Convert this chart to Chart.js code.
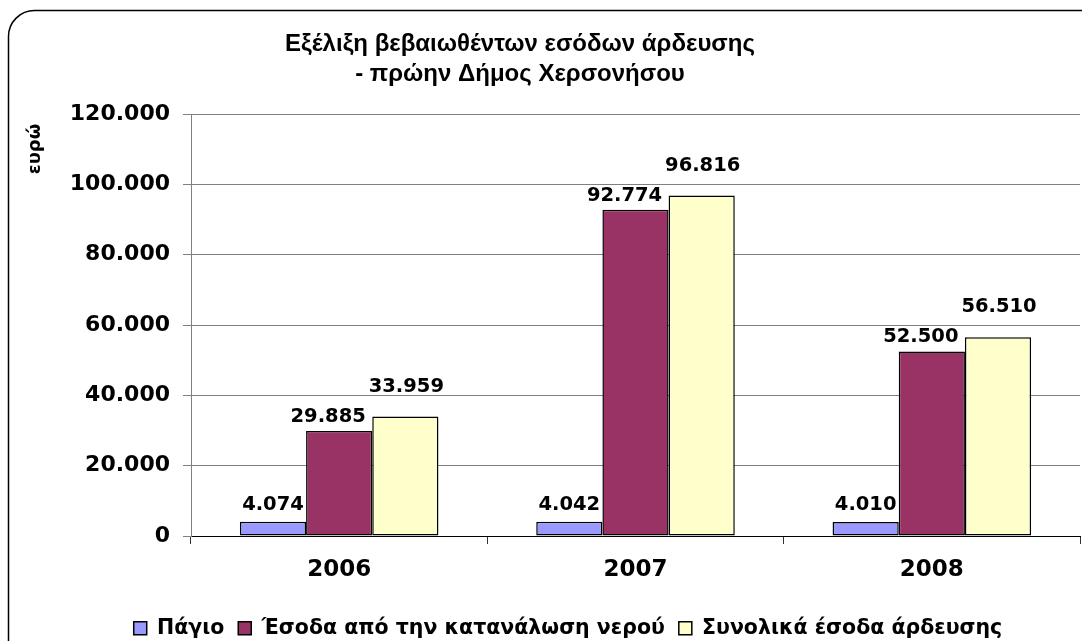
<!DOCTYPE html>
<html><head><meta charset="utf-8">
<script src="https://cdn.jsdelivr.net/npm/chart.js@4.4.0/dist/chart.umd.min.js"></script>
<style>html,body{margin:0;padding:0;background:#fff;overflow:hidden}#wrap{position:absolute;left:0;top:0;width:1082px;height:641px}</style>
</head><body><div id="wrap"><canvas id="c" width="1082" height="641"></canvas></div>
<script>
const titleLines = ['Εξέλιξη βεβαιωθέντων εσόδων άρδευσης', '- πρώην Δήμος Χερσονήσου'];
const yAxisTitle = 'ευρώ';
const categories = ['2006', '2007', '2008'];
const seriesNames = ['Πάγιο', 'Έσοδα από την κατανάλωση νερού', 'Συνολικά έσοδα άρδευσης'];
const pagio = [4074, 4042, 4010];
const esodaNerou = [29885, 92774, 52500];
const synolika = [33959, 96816, 56510];
const yTickValues = [0, 20000, 40000, 60000, 80000, 100000, 120000];

const fmt = v => String(v).replace(/\B(?=(\d{3})+(?!\d))/g, '.');
const VFONT = "'DejaVu Sans', Verdana, sans-serif";

const framePlugin = {
  id: 'frame',
  beforeDraw(chart) {
    const ctx = chart.ctx;
    ctx.save();
    ctx.fillStyle = '#fff';
    ctx.fillRect(0, 0, chart.width, chart.height);
    const x = 8.5, y = 10.5, r = 26, R = chart.width + 20, B = chart.height + 20;
    ctx.beginPath();
    ctx.moveTo(x, B);
    ctx.lineTo(x, y + r);
    ctx.arcTo(x, y, x + r, y, r);
    ctx.lineTo(R, y);
    ctx.lineWidth = 1.5;
    ctx.strokeStyle = '#000';
    ctx.stroke();
    ctx.restore();
  }
};

const textPlugin = {
  id: 'texts',
  afterDraw(chart) {
    const ctx = chart.ctx;
    ctx.save();
    ctx.fillStyle = '#000';
    ctx.textAlign = 'center';
    ctx.textBaseline = 'alphabetic';
    ctx.font = "bold 24px 'Liberation Sans', Arial, sans-serif";
    ctx.fillText(titleLines[0], 520, 51);
    ctx.fillText(titleLines[1], 520, 81);
    ctx.translate(35, 149);
    ctx.rotate(-Math.PI / 2);
    ctx.textBaseline = 'middle';
    ctx.font = "bold 18px " + VFONT;
    ctx.fillText(yAxisTitle, 0, 0);
    ctx.restore();
  }
};

const labelOffsets = [{dx: 0, dy: 12}, {dx: -11, dy: 9}, {dx: 1, dy: 25}];
const valueLabelPlugin = {
  id: 'valueLabels',
  afterDatasetsDraw(chart) {
    const ctx = chart.ctx;
    ctx.save();
    ctx.fillStyle = '#000';
    ctx.textAlign = 'center';
    ctx.textBaseline = 'alphabetic';
    ctx.font = "bold 19.5px " + VFONT;
    chart.data.datasets.forEach((ds, i) => {
      const meta = chart.getDatasetMeta(i);
      meta.data.forEach((el, j) => {
        const o = labelOffsets[i];
        ctx.fillText(fmt(ds.data[j]), el.x + o.dx, el.y - o.dy);
      });
    });
    ctx.restore();
  }
};

const colors = ['#9999FF', '#993366', '#FFFFCC'];
const seriesData = [pagio, esodaNerou, synolika];

new Chart(document.getElementById('c'), {
  type: 'bar',
  data: {
    labels: categories,
    datasets: seriesNames.map((name, i) => ({
      label: name,
      data: seriesData[i],
      backgroundColor: colors[i],
      borderColor: '#000',
      borderWidth: 1.5,
      borderSkipped: false,
      categoryPercentage: 0.67,
      barPercentage: 1.0
    }))
  },
  options: {
    responsive: false,
    animation: false,
    devicePixelRatio: 1,
    layout: {padding: {left: 56, right: 2, top: 114, bottom: 0}},
    plugins: {
      title: {display: false},
      tooltip: {enabled: false},
      legend: {
        position: 'bottom',
        maxHeight: 37,
        labels: {
          boxWidth: 13,
          boxHeight: 13,
          padding: 14,
          color: '#000',
          font: {family: VFONT, size: 20.5, weight: 'bold'}
        }
      }
    },
    scales: {
      x: {
        afterFit(s) { s.height = 68; },
        grid: {display: true, drawOnChartArea: false, drawTicks: true, tickLength: 8, color: '#333', offset: true},
        border: {display: true, color: '#000', width: 1},
        ticks: {color: '#000', padding: 12, font: {family: VFONT, size: 23, weight: 'bold'}}
      },
      y: {
        min: 0,
        max: 120000,
        afterFit(s) { s.width = 135; },
        afterBuildTicks(s) { s.ticks = yTickValues.map(v => ({value: v})); },
        grid: {color: '#808080', lineWidth: 1, tickLength: 8, drawTicks: true},
        border: {display: true, color: '#808080', width: 1},
        ticks: {color: '#000', padding: 13, font: {family: VFONT, size: 22, weight: 'bold'}, callback: v => fmt(v)}
      }
    }
  },
  plugins: [framePlugin, textPlugin, valueLabelPlugin]
});
</script>
</body></html>
